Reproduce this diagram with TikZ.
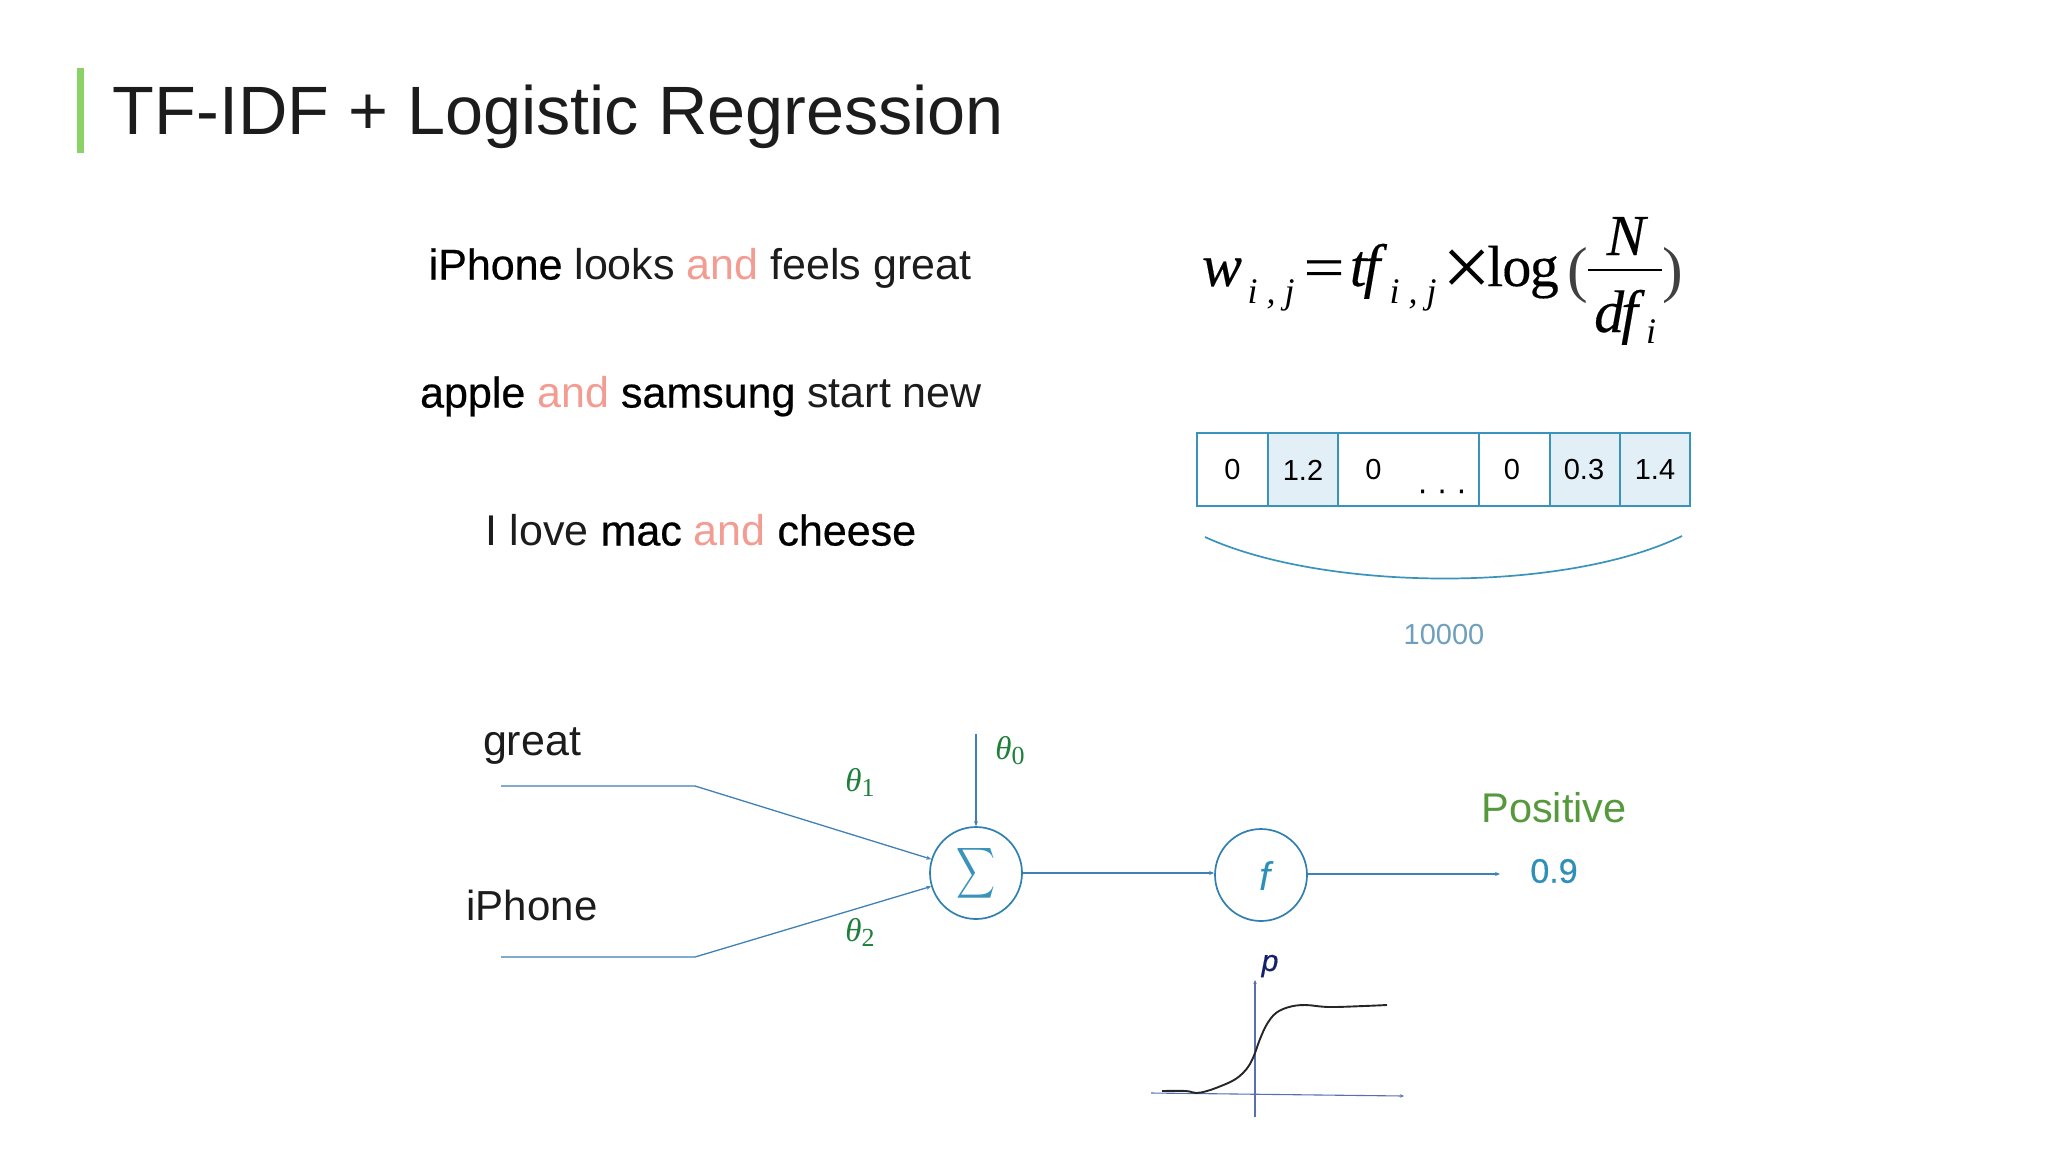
\documentclass[tikz,border=0pt]{standalone}
\usepackage{fontspec}
\setmainfont{Liberation Sans}
\newfontfamily\medf[FakeBold=0.5]{Liberation Sans}
\newfontfamily\tms[FakeBold=0.25]{Liberation Serif}
\newfontfamily\tmsl{Liberation Serif}
\usetikzlibrary{arrows.meta}
\definecolor{ink}{HTML}{1C1C1C}
\definecolor{andc}{HTML}{F39C92}
\definecolor{barg}{HTML}{8AD266}
\definecolor{lnb}{HTML}{3A93BB}
\definecolor{wire}{HTML}{3F80B6}
\definecolor{ring}{HTML}{2F7FB0}
\definecolor{cellf}{HTML}{E3EFF7}
\definecolor{numb}{HTML}{6E9FBD}
\definecolor{grn}{HTML}{1F7F3C}
\definecolor{posg}{HTML}{55993C}
\definecolor{valb}{HTML}{2F8FBB}
\definecolor{axisb}{HTML}{5A6FB0}
\definecolor{pnavy}{HTML}{14206A}
\newcommand{\fsz}[1]{\fontsize{#1}{#1}\selectfont}
\newcommand{\bw}[1]{{\medf\color{black}#1}}
\newcommand{\aw}[1]{{\color{andc}#1}}
\tikzset{
 x=1pt,y=-1pt,
 txt/.style={inner sep=0pt,anchor=base,text=ink},
 sentence/.style={txt,font=\fsz{43}},
 lbl/.style={txt,font=\fsz{43}},
 fml/.style={inner sep=0pt,anchor=base,text=black,font=\tms\fsz{58}},
 fmlit/.style={fml,font=\tms\itshape\fsz{60}},
 fmlsub/.style={fml,font=\tmsl\itshape\fsz{36}},
 paren/.style={fml,text=black!75,font=\tmsl\fsz{62}},
 cellbox/.style={draw=lnb,line width=2pt,inner sep=0pt,anchor=north west,minimum height=73pt},
 celltxt/.style={txt,text=black,font=\fsz{29},anchor=center},
 wirec/.style={draw=wire,line width=1.3pt},
 wirea/.style={wirec,-{Stealth[length=5pt,width=4pt]}},
 unit/.style={circle,draw=ring,line width=1.7pt,minimum size=92pt,inner sep=0pt},
 wgt/.style={inner sep=0pt,anchor=base,text=grn,font=\tmsl\itshape\fsz{33}},
 axisl/.style={draw=axisb,line width=1.1pt,-{Stealth[length=4pt,width=3.5pt]}},
}
\begin{document}
\begin{tikzpicture}
\useasboundingbox (0,0) rectangle (2048,1152);
\fill[barg] (77,68) rectangle (83.5,153);
\node[txt,font=\fsz{68.4},anchor=base west] (title) at (112.5,134) {TF-IDF + Logistic Regression};
\node[sentence] (s1) at (700,279.5) {\bw{iPhone} looks \aw{and} feels great};
\node[sentence] (s2) at (701,407.5) {\bw{apple} \aw{and} \bw{samsung} start new};
\node[sentence] (s3) at (701,545.5) {I love \bw{mac} \aw{and} \bw{cheese}};
% formula
\node[fmlit] (fw) at (1222,286) {w};
\node[fmlsub] (fs1) at (1271,303) {i , j};
\node[fml] (feq) at (1324,287) {\scalebox{1.25}[1]{=}};
\node[fmlit] (ftf) at (1365,286) {t\kern-3pt f};
\node[fmlsub] (fs2) at (1413,303) {i , j};
\node[fml,font=\tmsl\fsz{58}] (fx) at (1467,296) {\scalebox{1.5}{×}};
\node[fml] (flog) at (1523,286) {l\kern-1pt o\kern-1.5pt g};
\node[paren] (flp) at (1578,290) {(};
\node[fmlit,font=\tms\itshape\fsz{58}] (fN) at (1626,255) {N};
\draw[line width=2.4pt,black] (1588,270) -- (1662,270);
\node[fmlit] (fdf) at (1616,332) {d\kern-3pt f};
\node[fmlsub] (fdi) at (1651,343) {i};
\node[paren] (frp) at (1673,290) {)};
% array
\node[cellbox,minimum width=71pt] (c1) at (1195.5,432) {};
\node[cellbox,fill=cellf,minimum width=70pt] (c2) at (1266.5,432) {};
\node[cellbox,minimum width=141pt] (c3) at (1336.5,432) {};
\node[cellbox,minimum width=71pt] (c4) at (1477.5,432) {};
\node[cellbox,fill=cellf,minimum width=70pt] (c5) at (1548.5,432) {};
\node[cellbox,fill=cellf,minimum width=70.5pt] (c6) at (1618.5,432) {};
\node[celltxt] (v1) at (1232.5,470) {0};
\node[celltxt] (v2) at (1303,470) {1.2};
\node[celltxt] (v3) at (1373.5,470) {0};
\node[celltxt,font=\medf\fsz{30},anchor=base] (v4) at (1442,493) {. . .};
\node[celltxt] (v5) at (1512,470) {0};
\node[celltxt] (v6) at (1584,470) {0.3};
\node[celltxt] (v7) at (1655,470) {1.4};
\coordinate (arcl) at (1205,537);
\coordinate (arcr) at (1682,536);
\draw[lnb,line width=1.7pt] (arcl) .. controls (1325,592) and (1565,593) .. (arcr);
\node[txt,text=numb,font=\fsz{29},anchor=center] (n) at (1444,634.5) {10000};
% network
\node[lbl] (lgreat) at (532,755) {great};
\node[lbl,font=\fsz{42}] (liphone) at (532,920) {iPhone};
\node[unit] (sum) at (976,873) {\color{lnb}\scalebox{2.7}[3.55]{$\displaystyle\sum$}};
\node[unit] (fn) at (1261,875) {};
\node[inner sep=0pt,text=valb,font=\itshape\fsz{40}] (fl) at (1265,876) {f};
\coordinate (a0) at (501,786);
\coordinate (a1) at (695,786);
\coordinate (b0) at (501,957);
\coordinate (b1) at (695,957);
\coordinate (t0) at (976,734);
\coordinate (out) at (1500,874);
\draw[wirea] (a0) -- (a1) -- (sum);
\draw[wirea] (b0) -- (b1) -- (sum);
\draw[wirea] (t0) -- (sum);
\draw[wirea] (sum.east) -- (sum.east -| fn.west);
\draw[wirea] (fn.east |- out) -- (out);
\node[wgt] (th0) at (1010,759) {θ\upshape\fsz{26}\raisebox{-5pt}{0}};
\node[wgt] (th1) at (860,791) {θ\upshape\fsz{26}\raisebox{-5pt}{1}};
\node[wgt] (th2) at (860,941) {θ\upshape\fsz{26}\raisebox{-5pt}{2}};
\node[txt,text=posg,font=\fsz{41.5},anchor=base] (pos) at (1554,822.5) {Positive};
\node[txt,text=valb,font=\medf\fsz{34},anchor=center] (val) at (1554,871) {0.9};
% plot
\coordinate (xa) at (1151,1093);
\coordinate (xb) at (1404,1096);
\coordinate (ya) at (1255,1117);
\coordinate (yb) at (1255,980);
\draw[axisl] (xa) -- (xb);
\draw[axisl] (ya) -- (yb);
\node[inner sep=0pt,text=pnavy,font=\medf\itshape\fsz{30}] (pl) at (1270,966) {p};
\draw[black!85,line width=1.9pt,smooth,tension=0.6] plot coordinates {(1162,1091)(1186,1091)(1196,1093)(1207,1091)(1221,1086)(1234,1080)(1243,1073)(1250,1064)(1255,1053)(1260,1039)(1267,1024)(1276,1013)(1289,1007)(1305,1005)(1329,1007)(1364,1006)(1387,1005)};
\end{tikzpicture}
\end{document}
